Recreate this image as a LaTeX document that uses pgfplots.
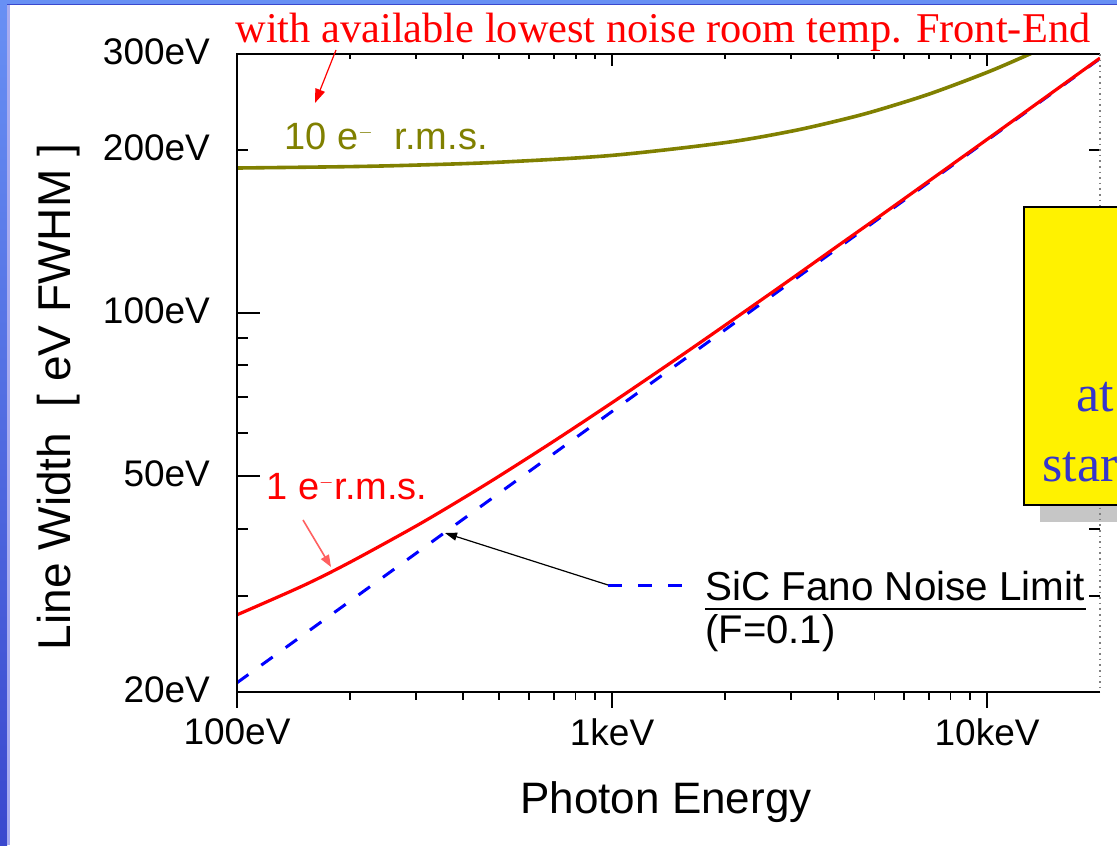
\documentclass[border=0pt]{standalone}
\usepackage{pgfplots}
\pgfplotsset{compat=1.18}
\usepackage{fontspec}
\setmainfont{Liberation Serif}
\setsansfont{Liberation Sans}
\usetikzlibrary{arrows.meta}
\definecolor{olivec}{HTML}{808000}
\definecolor{boxblue}{HTML}{3535CC}
\definecolor{frameA}{HTML}{6890F4}
\definecolor{frameB}{HTML}{3A48CE}
\definecolor{frameL}{HTML}{A8ACF0}
\definecolor{pinkred}{HTML}{FF6060}
\begin{document}
\begin{tikzpicture}
\useasboundingbox (0,0) rectangle (558.5pt,422.5pt);
\clip (0,0) rectangle (558.5pt,422.5pt);
\fill[white] (0,0) rectangle (558.5pt,422.5pt);
\begin{scope}[yshift=422.5pt, x=0.5pt, y=-0.5pt]
  \shade[top color=frameA, bottom color=frameB] (0,0) rectangle (7,845);
  \fill[frameL] (7,4) rectangle (10,845);
  \fill[frameA] (0,0) rectangle (1117,4);
  \draw[frameB, line width=0.5pt] (7,4.5) -- (1117,4.5);
  % shadow of the yellow box
  \fill[gray!45] (1040,222) rectangle (1140,522);
\end{scope}

% main axis: data and y ticks
\begin{axis}[
  at={(118.5pt,76.5pt)}, anchor=south west,
  scale only axis, width=431.5pt, height=319pt,
  xmode=log, ymode=log,
  xmin=100, xmax=20000, ymin=20, ymax=300,
  axis line style={draw=none},
  clip mode=individual,
  tick align=inside,
  xtick=\empty, minor xtick={},
  ytick={20,50,100,200,300},
  yticklabels={20eV,50eV,100eV,200eV,300eV},
  minor ytick={30,40,60,70,80,90},
  ytick pos=both, yticklabel pos=left,
  major tick length=5.5pt, minor tick length=5.5pt,
  every tick/.style={black, line width=1pt},
  extra y ticks={50,100}, extra y tick labels={},
  extra y tick style={major tick length=11.5pt},
  yticklabel style={font=\sffamily\fontsize{18.5}{18.5}\selectfont, xshift=-10pt, yshift=1pt},
]
\addplot[blue, line width=1.5pt, dash pattern=on 7pt off 8pt] coordinates {
(100,20.8)(200,29.4)(400,41.6)(1000,65.8)(2000,93.0)(4000,131.6)(10000,208.0)(20000,294.2)};
\addplot[olivec, line width=1.8pt, smooth] coordinates {
(100,184.9)(200,186.0)(300,187.2)(500,189.5)(1000,195.1)(2000,205.9)(3000,216.1)(4000,226.0)(5000,235.3)(7000,253.0)(10000,277.5)(13000,300.0)(15000,314.1)};
\addplot[red, line width=1.6pt, smooth] coordinates {
(100,27.75)(150,31.40)(200,34.68)(300,40.44)(400,45.48)(500,50.0)(700,58.01)(1000,68.29)(1500,82.63)(2000,94.82)(3000,115.4)(4000,132.9)(5000,148.2)(7000,175.0)(10000,208.8)(15000,255.5)(20000,294.8)};
\draw[black, line width=1.1pt] (rel axis cs:0,0) -- (rel axis cs:0,1) -- (rel axis cs:1,1);
\draw[black, line width=0.6pt] (rel axis cs:0,0) -- (rel axis cs:1,0);
\draw[gray, dotted, line width=0.8pt] (rel axis cs:1,1) -- (rel axis cs:1,0);
\end{axis}

% top x ticks (inside), no labels
\begin{axis}[
  at={(118.5pt,76.5pt)}, anchor=south west,
  scale only axis, width=431.5pt, height=319pt,
  xmode=log, ymode=log,
  xmin=100, xmax=20000, ymin=20, ymax=300,
  axis line style={draw=none},
  ytick=\empty, minor ytick={},
  tick align=inside, xtick pos=right,
  xtick={1000,10000}, xticklabels={{},{}},
  minor xtick={200,300,400,500,600,700,800,900,2000,3000,4000,5000,6000,7000,8000,9000},
  major tick length=6pt, minor tick length=2.5pt,
  every tick/.style={black, line width=0.9pt},
]
\end{axis}

% bottom x ticks (outside) with labels
\begin{axis}[
  at={(118.5pt,76.5pt)}, anchor=south west,
  scale only axis, width=431.5pt, height=319pt,
  xmode=log, ymode=log,
  xmin=100, xmax=20000, ymin=20, ymax=300,
  axis line style={draw=none},
  ytick=\empty, minor ytick={},
  tick align=outside, xtick pos=left,
  xtick={100,1000,10000}, xticklabels={100eV,1keV,10keV},
  minor xtick={200,300,400,500,600,700,800,900,2000,3000,4000,5000,6000,7000,8000,9000},
  major tick length=8pt, minor tick length=4pt,
  every tick/.style={black, line width=0.7pt},
  xticklabel style={font=\sffamily\fontsize{18.5}{18.5}\selectfont, yshift=-2pt},
]
\end{axis}

\begin{scope}[yshift=422.5pt, x=0.5pt, y=-0.5pt]
  % axis labels
  \node[anchor=base, inner sep=0, font=\sffamily\fontsize{22}{22}\selectfont] at (666,813) {Photon Energy};
  \node[anchor=base, rotate=90, inner sep=0, font=\sffamily\fontsize{23}{23}\selectfont] at (70,397) {Line Width\ \ [ eV FWHM ]};
  % title
  \node[anchor=base west, inner sep=0, red, font=\fontsize{21.2}{21.2}\selectfont] at (235,43) {with available lowest noise room temp. Front-End};
  \draw[red, line width=0.6pt, -{Triangle[length=7pt,width=5pt]}] (336,50) -- (315,103);
  % 10 e- label
  \node[anchor=base west, inner sep=0, olivec, font=\sffamily\fontsize{19}{19}\selectfont] at (284,150) {10 e$^{\scriptscriptstyle -}$\ \ r.m.s.};
  % 1 e- label
  \node[anchor=base west, inner sep=0, red, font=\sffamily\fontsize{19}{19}\selectfont] at (266,500) {1 e$^{\scriptscriptstyle -}$r.m.s.};
  \draw[pinkred, line width=0.8pt, -{Triangle[length=6pt,width=4.5pt]}] (303,520) -- (331,567);
  % Fano legend
  \draw[black, line width=0.6pt, -{Triangle[length=6pt,width=4pt]}] (608,585) -- (445,533);
  \draw[blue, line width=1.5pt, dash pattern=on 7pt off 8pt] (608,586) -- (683,586);
  \node[anchor=base west, inner sep=0, font=\sffamily\fontsize{20.2}{20.2}\selectfont] at (705,601) {SiC Fano Noise Limit};
  \draw[black, line width=0.6pt] (705,609) -- (1086,609);
  \node[anchor=base west, inner sep=0, font=\sffamily\fontsize{20}{20}\selectfont] at (705,644) {(F=0.1)};
  % yellow box
  \draw[fill=yellow, line width=1.2pt] (1024,207) rectangle (1140,505);
  \node[anchor=base west, inner sep=0, boxblue, font=\fontsize{26}{26}\selectfont] at (1076,412) {at};
  \node[anchor=base west, inner sep=0, boxblue, font=\fontsize{26}{26}\selectfont] at (1042,482) {start};
\end{scope}
\end{tikzpicture}
\end{document}
